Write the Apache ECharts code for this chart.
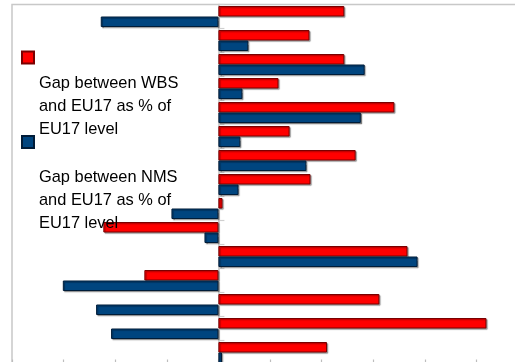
<!DOCTYPE html>
<html>
<head>
<meta charset="utf-8">
<script src="https://cdn.jsdelivr.net/npm/echarts@6/dist/echarts.min.js"></script>
<style>
  html, body { margin: 0; padding: 0; background: #ffffff; }
  #chart { width: 515px; height: 362px; }
</style>
</head>
<body>
<div id="chart"></div>
<script>
// Indicator groups, top to bottom
const categories = ['I1', 'I2', 'I3', 'I4', 'I5', 'I6', 'I7', 'I8',
                    'I9', 'I10', 'I11', 'I12', 'I13', 'I14', 'I15'];

// Gap to the EU17 average, % of EU17 level
const wbsGap = [48.8, 35.3, 48.8, 23.3, 68.2, 27.6, 53.2, 35.7,
                1.6, -44.6, 73.3, -28.7, 62.4, 103.9, 42.1];
const nmsGap = [-45.6, 11.6, 56.7, 9.3, 55.2, 8.5, 34.1, 7.8,
                -18.2, -5.4, 77.2, -60.3, -47.4, -41.6, 1.4];

const seriesNames = [
  'Gap between WBS and EU17 as % of EU17 level',
  'Gap between NMS and EU17 as % of EU17 level'
];
const legendLines = [
  ['Gap between WBS', 'and EU17 as % of', 'EU17 level'],
  ['Gap between NMS', 'and EU17 as % of', 'EU17 level']
];

const chart = echarts.init(document.getElementById('chart'), null, { renderer: 'canvas' });

// Legend text sits below its swatch: an empty spacer line pushes the
// three text lines down while the block stays centred on the swatch.
const legendFormatter = (idx) => () =>
  '{sp| }\n' + legendLines[idx].map(l => '{t|' + l + '}').join('\n');

const legendRich = (spacer) => ({
  sp: { height: spacer, lineHeight: spacer, fontSize: 1 },
  t: {
    color: '#000000',
    fontFamily: 'Liberation Sans',
    fontSize: 16.4,
    lineHeight: 23,
    height: 23
  }
});

const barShadow = {
  shadowColor: 'rgba(0,0,0,0.35)',
  shadowBlur: 1,
  shadowOffsetX: 1.2,
  shadowOffsetY: 1.2
};

const legendBase = {
  left: 21,
  padding: 0,
  itemWidth: 12,
  itemHeight: 12,
  itemGap: 0,
  icon: 'rect',
  selectedMode: false
};

chart.setOption({
  animation: false,
  backgroundColor: '#ffffff',
  grid: {
    show: true,
    left: 12,
    top: 4.5,
    width: 516,
    height: 360,
    outerBoundsMode: 'none',
    containLabel: false,
    borderColor: '#c8c8c8',
    borderWidth: 1.5,
    backgroundColor: 'transparent'
  },
  legend: [
    Object.assign({}, legendBase, {
      data: [seriesNames[0]],
      top: -25.8,
      formatter: legendFormatter(0),
      textStyle: { rich: legendRich(97.6) }
    }),
    Object.assign({}, legendBase, {
      data: [seriesNames[1]],
      top: 48.8,
      formatter: legendFormatter(1),
      textStyle: { rich: legendRich(117.4) }
    })
  ],
  xAxis: {
    type: 'value',
    min: -80,
    max: 120,
    interval: 20,
    axisLine: { show: false },
    axisTick: { show: true, inside: true, length: 5, lineStyle: { color: '#bdbdbd', width: 1.2 } },
    axisLabel: { show: false },
    splitLine: { show: false }
  },
  yAxis: {
    type: 'category',
    data: categories,
    inverse: true,
    axisLine: { show: true, onZero: true, lineStyle: { color: '#c0c0c0', width: 1.5 } },
    axisTick: { show: true, inside: true, length: 6, lineStyle: { color: '#cfcfcf', width: 1.2 } },
    axisLabel: { show: false },
    splitLine: { show: false }
  },
  series: [
    {
      name: seriesNames[0],
      type: 'bar',
      data: wbsGap,
      barWidth: 10.5,
      barGap: '0%',
      itemStyle: Object.assign({ color: '#ff0000', borderColor: '#7a0000', borderWidth: 1 }, barShadow)
    },
    {
      name: seriesNames[1],
      type: 'bar',
      data: nmsGap,
      barWidth: 10.5,
      barGap: '0%',
      itemStyle: Object.assign({ color: '#00457f', borderColor: '#001c38', borderWidth: 1 }, barShadow)
    }
  ]
});
</script>
</body>
</html>
